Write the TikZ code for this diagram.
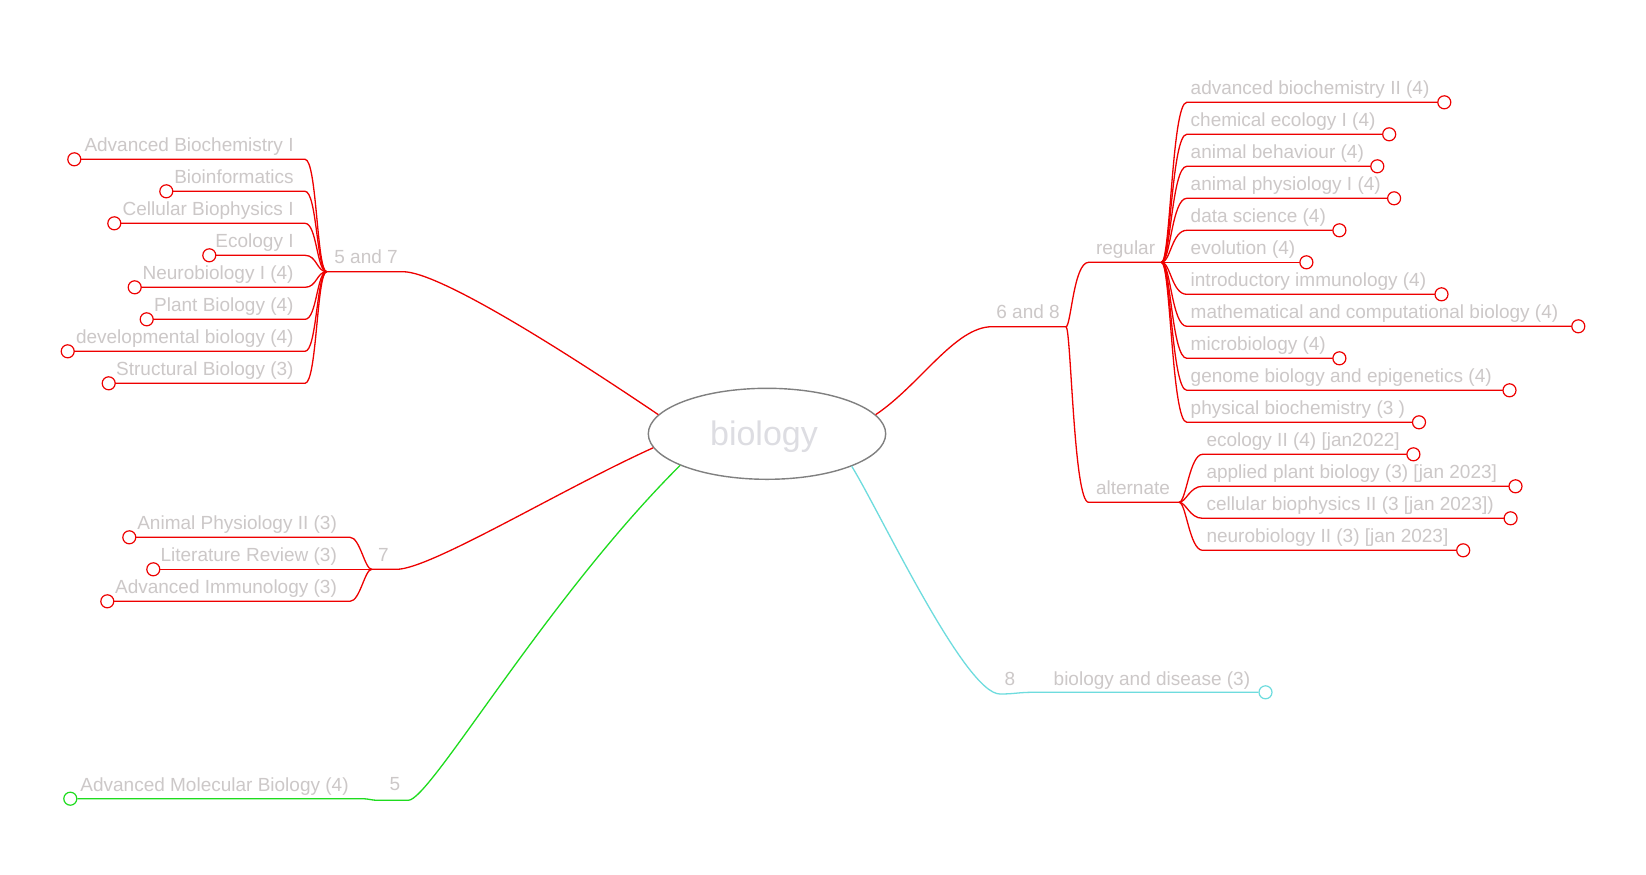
\documentclass[tikz,border=0pt]{standalone}
\usepackage{fontspec}
\setmainfont{Liberation Sans}
\usetikzlibrary{shapes.geometric}
\definecolor{txtgray}{RGB}{204,200,200}
\definecolor{hubgray}{RGB}{221,221,226}
\definecolor{rimgray}{RGB}{128,128,128}
\definecolor{brred}{RGB}{238,0,0}
\definecolor{brgreen}{RGB}{30,220,30}
\definecolor{brcyan}{RGB}{110,220,222}
\begin{document}
\begin{tikzpicture}[x=0.5pt,y=-0.5pt,
  lbl/.style={text=txtgray,font=\fontsize{9.5}{11}\selectfont,inner sep=0pt},
  leaf/.style={circle,draw,fill=white,inner sep=0pt,minimum size=6.5pt,line width=0.6pt},
  wire/.style={line width=0.65pt},
]
\useasboundingbox[fill=white] (0,0) rectangle (1646,874);

% central topic
\node[ellipse,draw=rimgray,line width=0.7pt,minimum width=118.7pt,minimum height=45.5pt,
      inner sep=0pt] (bio) at (767,433.8) {};
\node[text=hubgray,font=\fontsize{17}{20}\selectfont,inner sep=0pt] (biotxt) at (764,437) {biology};

% ---------- 5 and 7 ----------
\coordinate (J57) at (326.7,271.7);
\coordinate (b57) at (403,271.7);
\node[lbl,anchor=base west] (t57) at (334,263.5) {5 and 7};
\draw[wire,brred] (J57) -- (b57) .. controls (440,271.7) and (570,355) .. (bio.170);
\foreach \n/\t/\yy/\cx in {1/{Advanced Biochemistry I}/159.3/74.3,
                           2/{Bioinformatics}/191.3/166.3,
                           3/{Cellular Biophysics I}/223.3/114.3,
                           4/{Ecology I}/255.3/209.3,
                           5/{Neurobiology I (4)}/287.3/134.7,
                           6/{Plant Biology (4)}/319.3/146.7,
                           7/{developmental biology (4)}/351.3/67.7,
                           8/{Structural Biology (3)}/383.3/108.7}{
  \coordinate (Le\n) at (305,\yy);
  \node[lbl,anchor=base east] (Lt\n) at (294,\yy-8) {\t};
  \draw[wire,brred] (J57) .. controls +(-10,0) and +(12,0) .. (Le\n) -- (\cx+6.5,\yy);
  \node[leaf,draw=brred] (L\n) at (\cx,\yy) {};
}

% ---------- 7 ----------
\coordinate (J7) at (371.7,569.3);
\coordinate (b7) at (396.7,569.3);
\node[lbl,anchor=base] (t7) at (383.3,561.5) {7};
\draw[wire,brred] (J7) -- (b7) .. controls (430,569.3) and (560,490) .. (bio.187);
\foreach \n/\t/\yy/\cx in {1/{Animal Physiology II (3)}/537.3/129.3,
                           2/{Literature Review (3)}/569.3/153.3,
                           3/{Advanced Immunology (3)}/601.3/107.3}{
  \coordinate (Se\n) at (350,\yy);
  \node[lbl,anchor=base east] (St\n) at (337.3,\yy-8) {\t};
  \draw[wire,brred] (J7) .. controls +(-7,0) and +(10,0) .. (Se\n) -- (\cx+6.5,\yy);
  \node[leaf,draw=brred] (S\n) at (\cx,\yy) {};
}

% ---------- 5 ----------
\node[leaf,draw=brgreen] (G1) at (70.3,798.7) {};
\node[lbl,anchor=base west] (Gt1) at (80,791) {Advanced Molecular Biology (4)};
\node[lbl,anchor=base] (t5) at (395,790.5) {5};
\coordinate (g1) at (360,798.7);
\coordinate (g2) at (380,800.3);
\coordinate (g3) at (408.3,800.3);
\draw[wire,brgreen] (G1.east) -- (g1) .. controls (372,798.7) and (368,800.3) .. (g2) -- (g3)
   .. controls (430,800.3) and (545,600) .. (bio.200);

% ---------- 8 ----------
\node[leaf,draw=brcyan] (C1) at (1265.5,692.3) {};
\node[lbl,anchor=base west] (Ct1) at (1053.3,685) {biology and disease (3)};
\node[lbl,anchor=base] (t8) at (1010,685.5) {8};
\coordinate (c1) at (1000,694);
\coordinate (c2) at (1033,692.3);
\draw[wire,brcyan] (bio.339) .. controls (880,512) and (965,694) .. (c1)
   .. controls (1015,694) and (1018,692.3) .. (c2) -- (C1.west);

% ---------- 6 and 8 ----------
\coordinate (J68) at (1066,326.7);
\coordinate (b68) at (992,326.7);
\node[lbl,anchor=base west] (t68) at (996,318.5) {6 and 8};
\draw[wire,brred] (bio.10) .. controls (920,385) and (955,326.7) .. (b68) -- (J68);

\coordinate (Rs) at (1088.6,262.3);
\coordinate (Jreg) at (1161.5,262.3);
\node[lbl,anchor=base west] (treg) at (1095.6,254.8) {regular};
\draw[wire,brred] (J68) .. controls +(5,0) and +(-15,0) .. (Rs) -- (Jreg);

\coordinate (As) at (1088.6,502.3);
\coordinate (Jalt) at (1179.1,502.3);
\node[lbl,anchor=base west] (talt) at (1095.6,494) {alternate};
\draw[wire,brred] (J68) .. controls +(5,0) and +(-15,0) .. (As) -- (Jalt);

\foreach \n/\t/\yy/\cx in {1/{advanced biochemistry II (4)}/102.3/1444.3,
                           2/{chemical ecology I (4)}/134.3/1389.2,
                           3/{animal behaviour (4)}/166.3/1377.3,
                           4/{animal physiology I (4)}/198.3/1394.1,
                           5/{data science (4)}/230.3/1339.4,
                           6/{evolution (4)}/262.3/1306.4,
                           7/{introductory immunology (4)}/294.3/1441.5,
                           8/{mathematical and computational biology (4)}/326.3/1578.3,
                           9/{microbiology (4)}/358.3/1339.4,
                           10/{genome biology and epigenetics (4)}/390.3/1509.5,
                           11/{physical biochemistry (3 )}/422.3/1419}{
  \coordinate (Re\n) at (1186.8,\yy);
  \node[lbl,anchor=base west] (Rt\n) at (1190.3,\yy-8) {\t};
  \draw[wire,brred] (Jreg) .. controls +(9,0) and +(-15,0) .. (Re\n) -- (\cx-6.5,\yy);
  \node[leaf,draw=brred] (R\n) at (\cx,\yy) {};
}

\foreach \n/\t/\yy/\cx in {1/{ecology II (4) [jan2022]}/454.3/1413.4,
                           2/{applied plant biology (3) [jan 2023]}/486.3/1515.5,
                           3/{cellular biophysics II (3 [jan 2023])}/518.3/1510.6,
                           4/{neurobiology II (3) [jan 2023]}/550.3/1463.2}{
  \coordinate (Ae\n) at (1202.6,\yy);
  \node[lbl,anchor=base west] (At\n) at (1206.1,\yy-8) {\t};
  \draw[wire,brred] (Jalt) .. controls +(7,0) and +(-13,0) .. (Ae\n) -- (\cx-6.5,\yy);
  \node[leaf,draw=brred] (A\n) at (\cx,\yy) {};
}
\end{tikzpicture}
\end{document}
